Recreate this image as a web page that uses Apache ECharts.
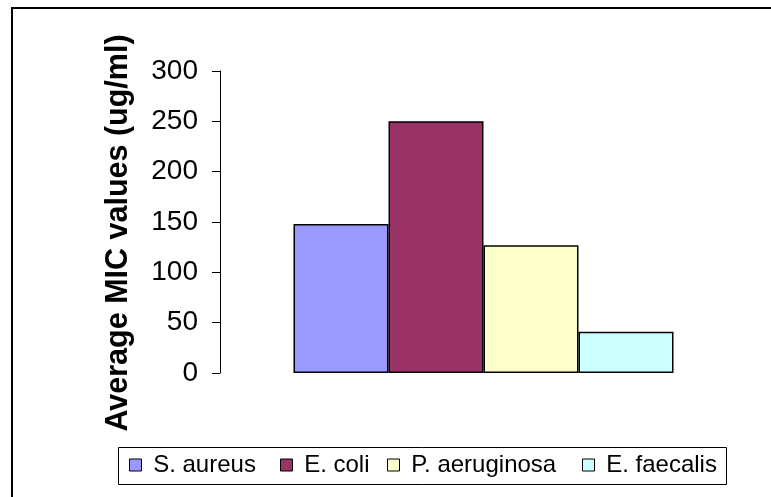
<!DOCTYPE html>
<html>
<head>
<meta charset="utf-8">
<script src="https://cdn.jsdelivr.net/npm/echarts@6/dist/echarts.min.js"></script>
<style>html,body{margin:0;padding:0;background:#fff}#c{width:771px;height:497px}</style>
</head>
<body>
<div id="c"></div>
<script>
var categories = ['MIC'];
var seriesNames = ['S. aureus', 'E. coli', 'P. aeruginosa', 'E. faecalis'];
var sAureus = [148];
var eColi = [250];
var pAeruginosa = [127];
var eFaecalis = [41];
var seriesValues = [sAureus, eColi, pAeruginosa, eFaecalis];
var seriesColors = ['#9999FF', '#993366', '#FFFFCC', '#CCFFFF'];
var yTicks = [0, 50, 100, 150, 200, 250, 300];
var legendLefts = [129, 280, 387, 582];

var chart = echarts.init(document.getElementById('c'), null, {renderer: 'canvas'});
var font = 'Liberation Sans, Arial, sans-serif';
chart.setOption({
  animation: false,
  backgroundColor: '#fff',
  textStyle: {fontFamily: font},
  graphic: [
    {type: 'rect', shape: {x: 12, y: 8, width: 800, height: 520}, style: {fill: 'none', stroke: '#000', lineWidth: 2}, silent: true, z: 100},
    {type: 'rect', shape: {x: 118.5, y: 447.5, width: 608, height: 37}, style: {fill: '#fff', stroke: '#000', lineWidth: 1}, silent: true, z: 0}
  ],
  legend: seriesNames.map(function (n, i) {
    return {
      left: legendLefts[i],
      top: 453,
      itemWidth: 12,
      itemHeight: 12,
      icon: 'rect',
      padding: 0,
      z: 10,
      formatter: function (s) { return ' ' + s; },
      textStyle: {fontFamily: font, fontSize: 24, color: '#000'},
      data: [{name: n, itemStyle: {borderColor: '#000', borderWidth: 1}}]
    };
  }),
  grid: {left: 220, right: 24, top: 71, bottom: 124, containLabel: false},
  xAxis: {
    type: 'category',
    data: categories,
    axisLine: {show: false},
    axisTick: {show: false},
    axisLabel: {show: false},
    splitLine: {show: false}
  },
  yAxis: {
    type: 'value',
    min: yTicks[0],
    max: yTicks[yTicks.length - 1],
    interval: 50,
    name: 'Average MIC values (ug/ml)',
    nameLocation: 'middle',
    nameGap: 86,
    nameTextStyle: {fontFamily: font, fontSize: 30.5, fontWeight: 'bold', color: '#000', padding: [0, 22, 0, 0]},
    axisLine: {show: true, lineStyle: {color: '#000', width: 1}},
    axisTick: {show: true, inside: false, length: 8, lineStyle: {color: '#000', width: 1}},
    axisLabel: {fontFamily: font, fontSize: 28, color: '#000', margin: 22},
    splitLine: {show: false}
  },
  series: seriesNames.map(function (n, i) {
    return {
      name: n,
      type: 'bar',
      data: seriesValues[i],
      barWidth: 95,
      barGap: '0%',
      itemStyle: {color: seriesColors[i], borderColor: '#000', borderWidth: 1.5}
    };
  })
});
</script>
</body>
</html>
